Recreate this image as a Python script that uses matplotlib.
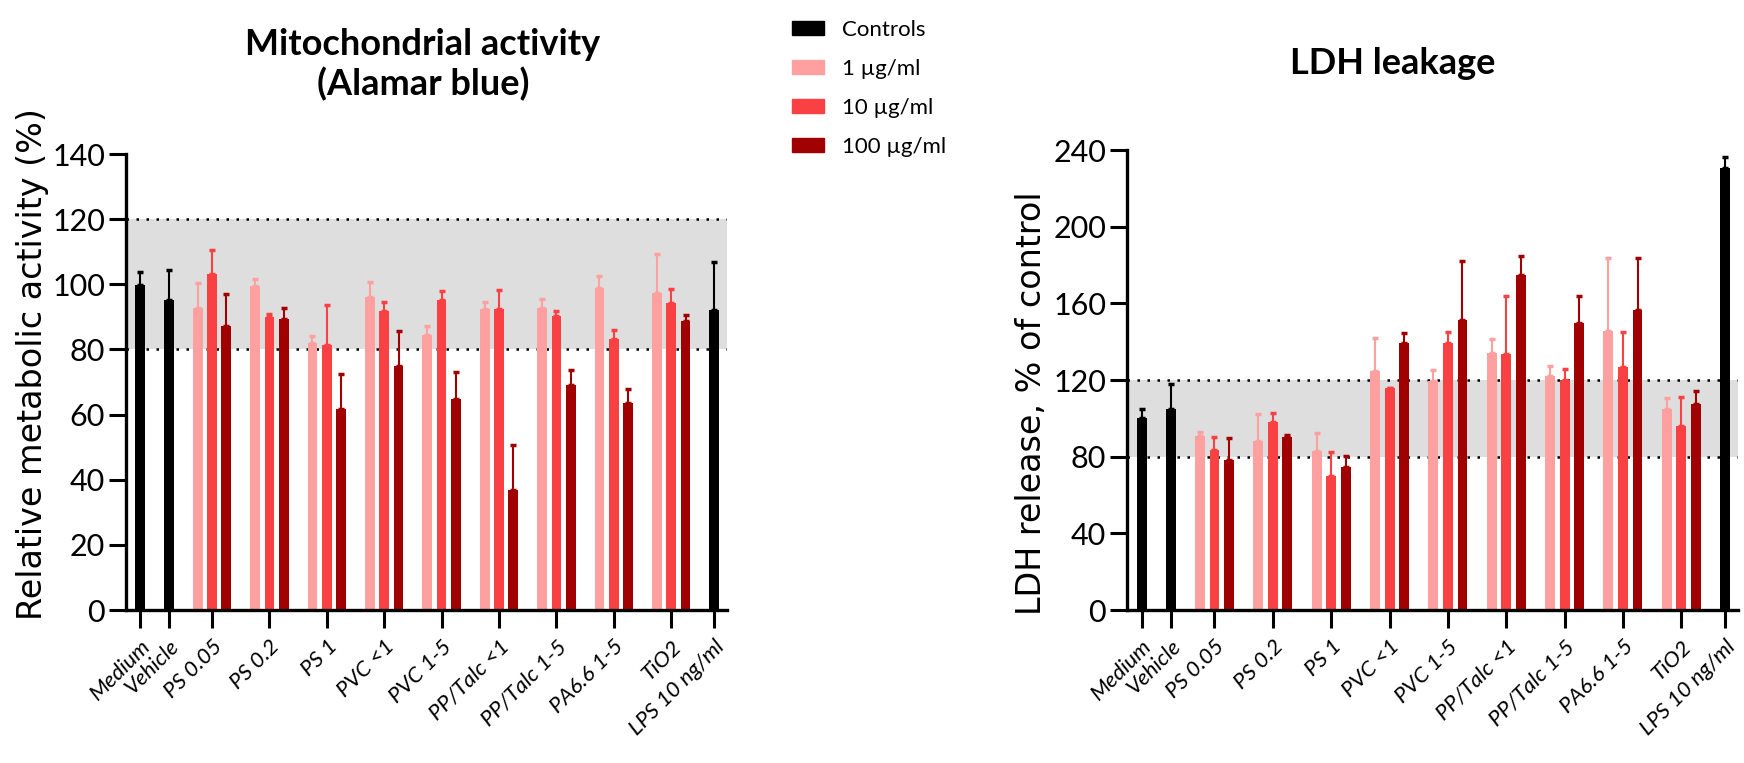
import matplotlib
matplotlib.use("Agg")
import matplotlib.pyplot as plt
from matplotlib.patches import Patch
import numpy as np

plt.rcParams["font.family"] = ["Lato", "DejaVu Sans"]

# treatments with three doses (1, 10, 100 ug/ml)
groups = ["PS 0.05", "PS 0.2", "PS 1", "PVC <1", "PVC 1-5",
          "PP/Talc <1", "PP/Talc 1-5", "PA6.6 1-5", "TiO2"]
controls = ["Medium", "Vehicle", "LPS 10 ng/ml"]
dose_labels = ["1 \u00b5g/ml", "10 \u00b5g/ml", "100 \u00b5g/ml"]

# Alamar blue, mean and upper error
ab_ctrl_mean = [99.8, 95.3, 92.0]
ab_ctrl_err = [4.0, 9.0, 15.0]
ab_mean = [
    [92.8, 99.6, 82.0, 96.2, 84.3, 92.3, 92.6, 98.8, 97.4],   # 1 ug/ml
    [103.2, 90.0, 81.5, 91.7, 95.2, 92.3, 90.2, 83.3, 94.2],  # 10 ug/ml
    [87.3, 89.4, 61.8, 75.0, 64.8, 36.7, 69.2, 63.6, 88.7],   # 100 ug/ml
]
ab_err = [
    [7.5, 2.0, 2.2, 4.5, 2.8, 2.3, 2.8, 3.8, 12.0],
    [7.2, 1.0, 12.0, 3.0, 2.8, 6.0, 1.5, 2.8, 4.5],
    [9.7, 3.2, 10.8, 10.8, 8.3, 14.0, 4.6, 4.3, 1.8],
]

# LDH leakage, mean and upper error
ldh_ctrl_mean = [100.0, 104.8, 230.4]
ldh_ctrl_err = [4.8, 13.2, 6.2]
ldh_mean = [
    [90.8, 88.2, 83.0, 124.7, 119.3, 134.3, 122.2, 145.6, 104.8],
    [83.3, 98.3, 69.8, 116.0, 139.2, 133.8, 119.8, 127.0, 96.0],
    [78.5, 90.2, 74.6, 139.3, 151.3, 174.6, 150.0, 156.6, 107.6],
]
ldh_err = [
    [2.3, 14.0, 9.2, 17.2, 6.0, 7.0, 5.2, 37.8, 6.0],
    [7.0, 4.4, 12.6, 0.0, 5.8, 30.2, 6.0, 17.8, 15.3],
    [11.2, 1.2, 6.0, 5.0, 30.6, 10.2, 13.8, 26.9, 6.5],
]

ctrl_color = "black"
dose_colors = ["#ffa0a0", "#f94144", "#a00000"]

group_x = np.arange(len(groups))
ctrl_x = [-1.25, -0.75, 8.75]
dose_offset = [-0.25, 0.0, 0.25]
bar_w = 0.17


def draw_panel(ax, c_mean, c_err, means, errs, ymax, ystep, ylabel, label_xy):
    ax.axhspan(80, 120, color="#dedede", zorder=0, lw=0)
    for yl in (80, 120):
        ax.axhline(yl, color="black", ls=(0, (1, 3)), lw=1.8, zorder=1)

    ax.bar(ctrl_x, c_mean, width=bar_w, color=ctrl_color, zorder=2)
    ax.errorbar(ctrl_x, c_mean, yerr=[np.zeros(3), c_err], fmt="none",
                ecolor=ctrl_color, elinewidth=1.5, capsize=2.5, capthick=2.5, zorder=3)
    for m, e, off, col in zip(means, errs, dose_offset, dose_colors):
        xs = group_x + off
        ax.bar(xs, m, width=bar_w, color=col, zorder=2)
        ax.errorbar(xs, m, yerr=[np.zeros(len(m)), e], fmt="none",
                    ecolor=col, elinewidth=1.5, capsize=2.5, capthick=2.5, zorder=3)

    ax.set_xlim(-1.5, 8.97)
    ax.set_ylim(0, ymax)
    ax.set_yticks(np.arange(0, ymax + 1, ystep))
    ax.set_xticks(ctrl_x[:2] + list(group_x) + ctrl_x[2:])
    ax.set_xticklabels(controls[:2] + groups + controls[2:], rotation=45,
                       ha="right", rotation_mode="anchor", style="italic", fontsize=16)
    ax.tick_params(axis="y", labelsize=22, length=12, width=2.2, pad=3)
    ax.tick_params(axis="x", length=13, width=2.2, pad=6)
    for s in ("top", "right"):
        ax.spines[s].set_visible(False)
    for s in ("left", "bottom"):
        ax.spines[s].set_linewidth(2.4)
    ax.set_ylabel(ylabel, fontsize=24, family="DejaVu Sans")
    ax.yaxis.set_label_coords(*label_xy)


fig = plt.figure(figsize=(17.44, 7.63), dpi=100)
ax1 = fig.add_axes([0.0722, 0.2005, 0.3446, 0.5976])
ax2 = fig.add_axes([0.6462, 0.2005, 0.3503, 0.6029])

draw_panel(ax1, ab_ctrl_mean, ab_ctrl_err, ab_mean, ab_err, 140, 20,
           "Relative metabolic activity (%)", (-0.128, 0.54))
draw_panel(ax2, ldh_ctrl_mean, ldh_ctrl_err, ldh_mean, ldh_err, 240, 40,
           "LDH release, % of control", (-0.13, 0.45))

fig.text(423 / 1744, 1 - 65 / 763, "Mitochondrial activity\n(Alamar blue)",
         ha="center", va="center", fontsize=26, fontweight="bold", linespacing=1.2)
fig.text(1393 / 1744, 1 - 63 / 763, "LDH leakage",
         ha="center", va="center", fontsize=26, fontweight="bold")

handles = [Patch(color=ctrl_color, label="Controls")] + \
          [Patch(color=c, label=l) for c, l in zip(dose_colors, dose_labels)]
fig.legend(handles=handles, loc="upper left", bbox_to_anchor=(772 / 1744, 1.0),
           frameon=False, fontsize=16, labelspacing=0.85, handlelength=1.45,
           handleheight=0.6, handletextpad=0.8)

fig.savefig("out.png", dpi=100)
